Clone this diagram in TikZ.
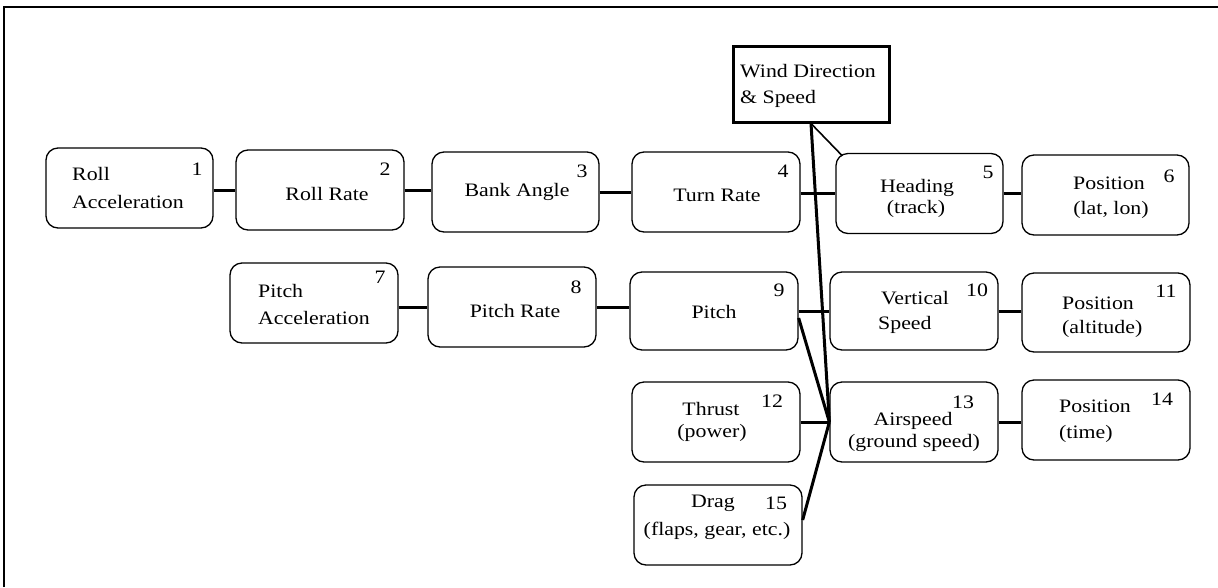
\documentclass[tikz,border=0pt]{standalone}
\usepackage{fontspec}
\setmainfont{Liberation Serif}[FakeStretch=1.15]
\usetikzlibrary{calc}
\tikzset{
  box/.style={draw, rounded corners=12pt, line width=1.3pt, minimum width=167pt, minimum height=80pt, inner sep=0pt},
  windbox/.style={draw, line width=3pt, minimum width=156pt, minimum height=76pt, inner sep=0pt},
  lbl/.style={inner sep=0pt, font=\fontsize{19}{22}\selectfont, anchor=base},
  lblw/.style={lbl, anchor=base west},
  conn/.style={line width=3pt},
  thinconn/.style={line width=1.6pt},
  frame/.style={line width=1.3pt}
}
\begin{document}
\begin{tikzpicture}[x=1pt,y=-1pt]
\useasboundingbox (0,0) rectangle (1218,587);
\fill[white] (0,0) rectangle (1218,587);
% frame
\coordinate (fbl) at (4,587);
\coordinate (ftl) at (4,7);
\coordinate (ftr) at (1218,7);
\draw[frame] (fbl) -- (ftl) -- (ftr);

% boxes
\node[box] (b1) at (129.5,188) {};
\node[box, minimum width=168pt] (b2) at (320,190) {};
\node[box] (b3) at (515.5,192) {};
\node[box, minimum width=168pt] (b4) at (716,192) {};
\node[box] (b5) at (919.5,193.5) {};
\node[box] (b6) at (1105.5,195) {};
\node[box, minimum width=168pt] (b7) at (314,303) {};
\node[box, minimum width=168pt] (b8) at (512,307) {};
\node[box, minimum width=168pt, minimum height=78pt] (b9) at (714,311) {};
\node[box, minimum width=168pt, minimum height=78pt] (b10) at (914,311) {};
\node[box, minimum width=168pt, minimum height=79pt] (b11) at (1106,312.5) {};
\node[box, minimum width=168pt] (b12) at (716,422) {};
\node[box, minimum width=168pt] (b13) at (914,422) {};
\node[box, minimum width=168pt] (b14) at (1106,420) {};
\node[box, minimum width=168pt] (b15) at (718,525) {};
\node[windbox] (wind) at (811,84) {};

% texts
\node[lblw] (t1a) at (72,180) {Roll};
\node[lblw] (t1b) at (72,208) {Acceleration};
\node[lbl] (n1) at (197,175) {1};
\node[lbl] (t2) at (327,200) {Roll Rate};
\node[lbl] (n2) at (385,175) {2};
\node[lbl] (t3) at (517,196) {Bank Angle};
\node[lbl] (n3) at (582,177) {3};
\node[lbl] (t4) at (717,201) {Turn Rate};
\node[lbl] (n4) at (783,177) {4};
\node[lblw] (tw1) at (740,77) {Wind Direction};
\node[lblw] (tw2) at (740,103) {\&~Speed};
\node[lbl] (t5a) at (917,192) {Heading};
\node[lbl] (t5b) at (916,213) {(track)};
\node[lbl] (n5) at (988,178) {5};
\node[lbl] (t6a) at (1109,189) {Position};
\node[lbl] (t6b) at (1111,214) {(lat, lon)};
\node[lbl] (n6) at (1169,182) {6};
\node[lblw] (t7a) at (258,297) {Pitch};
\node[lblw] (t7b) at (258,324) {Acceleration};
\node[lbl] (n7) at (380,283) {7};
\node[lbl] (t8) at (515,317) {Pitch Rate};
\node[lbl] (n8) at (576,293) {8};
\node[lbl] (t9) at (714,318) {Pitch};
\node[lbl] (n9) at (779,296) {9};
\node[lbl] (t10a) at (915,304) {Vertical};
\node[lblw] (t10b) at (878,329) {Speed};
\node[lbl] (n10) at (977,296) {10};
\node[lblw] (t11a) at (1062,309) {Position};
\node[lblw] (t11b) at (1062,333) {(altitude)};
\node[lbl] (n11) at (1166,297) {11};
\node[lbl] (t12a) at (711,415) {Thrust};
\node[lbl] (t12b) at (712,437) {(power)};
\node[lbl] (n12) at (772,407) {12};
\node[lbl] (t13a) at (913,425) {Airspeed};
\node[lbl] (t13b) at (914,447) {(ground speed)};
\node[lbl] (n13) at (963,408) {13};
\node[lblw] (t14a) at (1059,412) {Position};
\node[lblw] (t14b) at (1059,438) {(time)};
\node[lbl] (n14) at (1162,405) {14};
\node[lbl] (t15a) at (713,507) {Drag};
\node[lbl] (t15b) at (717,535) {(flaps, gear, etc.)};
\node[lbl] (n15) at (776,509) {15};

% connectors
\draw[conn] (b1.east |- b2.west) -- (b2.west);
\draw[conn] (b2.east) -- (b2.east -| b3.west);
\draw[conn] (b3.east) -- (b4.west);
\draw[conn] (b4.east |- b5.west) -- (b5.west);
\draw[conn] (b5.east) -- (b5.east -| b6.west);
\draw[conn] (b7.east |- b8.west) -- (b8.west);
\draw[conn] (b8.east) -- (b8.east -| b9.west);
\draw[conn] (b9.east) -- (b10.west);
\draw[conn] (b10.east) -- (b10.east -| b11.west);
\draw[conn] (b12.east) -- (b13.west);
\draw[conn] (b13.east) -- (b13.east -| b14.west);
\draw[conn] (wind.south) -- (b13.west);
\draw[thinconn] (wind.south) -- ($(b5.north west)+(7,3)$);
\draw[conn] ($(b9.east)+(0,7)$) -- (b13.west);
\draw[conn] ($(b15.east)+(0,-5)$) -- (b13.west);
\end{tikzpicture}
\end{document}
